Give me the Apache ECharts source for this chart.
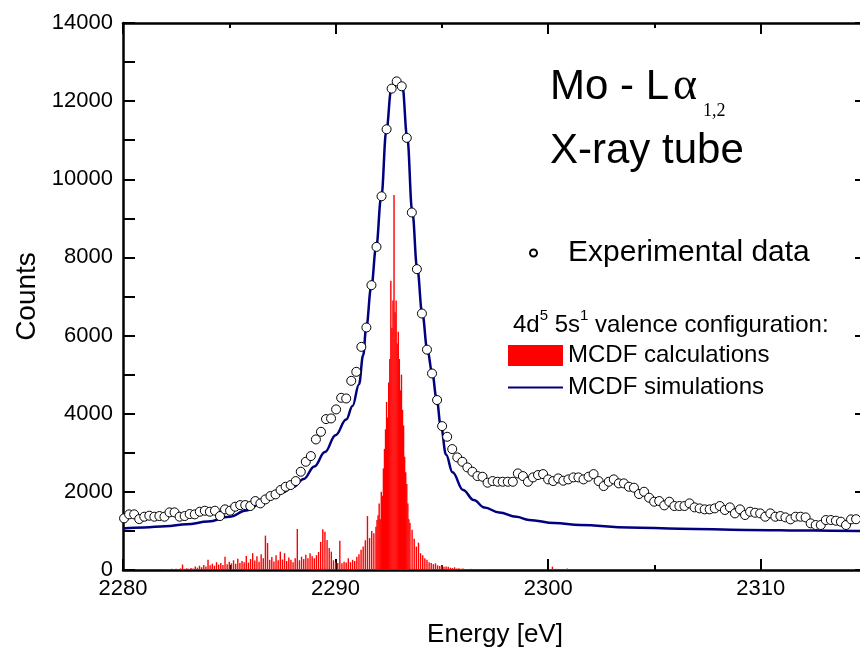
<!DOCTYPE html>
<html><head><meta charset="utf-8">
<script src="https://cdn.jsdelivr.net/npm/echarts@6/dist/echarts.min.js"></script>
<style>html,body{margin:0;padding:0;background:#fff}#c{width:860px;height:648px}</style>
</head><body><div id="c"></div>
<script>
// ---- Data ----
const xTicks = [2280, 2290, 2300, 2310];
const yTicks = [0, 2000, 4000, 6000, 8000, 10000, 12000, 14000];

// Experimental data: measured on a regular energy grid
const EXP_START = 2280.05;
const EXP_STEP = 0.2375;
const expCounts = [
  1322,1424,1424,1304,1364,1390,1364,1381,1364,1475,
  1475,1364,1381,1432,1424,1492,1517,1492,1517,1381,
  1552,1517,1620,1662,1662,1637,1765,1705,1807,1893,
  1935,2046,2131,2174,2276,2515,2770,2916,3342,3537,
  3862,3879,4110,4407,4390,4842,5072,5711,6207,7290,
  8270,9565,11280,12320,12506,12380,11060,9150,7700,6565,
  5640,5030,4350,3683,3410,3095,2882,2770,2626,2515,
  2404,2387,2234,2276,2259,2259,2259,2259,2472,2404,
  2259,2370,2430,2455,2319,2276,2345,2285,2319,2370,
  2370,2319,2387,2455,2276,2148,2259,2319,2217,2217,
  2131,2106,1944,2003,1850,1748,1765,1654,1748,1637,
  1637,1637,1705,1603,1577,1552,1552,1577,1637,1535,
  1603,1449,1552,1407,1492,1466,1449,1364,1449,1364,
  1381,1347,1296,1364,1364,1347,1194,1151,1151,1279,
  1279,1262,1236,1151,1296,1300
];

// MCDF simulation (smooth curve)
const simEnergy = [2280.0,2281.0,2282.0,2283.0,2284.0,2285.0,2285.8,2286.5,2287.0,2287.5,
  2288.0,2288.5,2289.0,2289.5,2290.0,2290.5,2290.8,2291.1,2291.3,2291.44,
  2291.68,2291.91,2292.15,2292.39,2292.62,2292.9,2293.14,2293.37,2293.61,2293.84,
  2294.08,2294.32,2294.55,2294.75,2294.95,2295.2,2295.5,2296.0,2296.5,2297.0,
  2297.7,2298.5,2299.1,2300.3,2301.5,2303.8,2306.2,2309.3,2312.5,2315.0];
const simCounts = [1065,1090,1120,1170,1240,1360,1520,1700,1840,1980,
  2120,2330,2650,3020,3450,3850,4200,4750,5500,6200,
  7250,8270,9550,11250,12300,12550,12400,11080,9160,7720,
  6560,5630,5030,4400,3700,2950,2500,2050,1790,1600,
  1470,1360,1280,1200,1150,1090,1057,1025,1008,1000];

// MCDF calculated stick spectrum
const calcEnergy = [
  2281.9,2282.0,2282.1,2282.2,2282.3,2282.4,2282.5,2282.6,2282.7,2282.8,
  2282.9,2283.0,2283.1,2283.2,2283.3,2283.4,2283.5,2283.6,2283.7,2283.8,
  2283.9,2284.0,2284.1,2284.2,2284.3,2284.4,2284.5,2284.6,2284.7,2284.8,
  2284.9,2285.0,2285.1,2285.2,2285.3,2285.4,2285.5,2285.6,2285.7,2285.8,
  2285.9,2286.0,2286.1,2286.2,2286.3,2286.4,2286.5,2286.6,2286.7,2286.8,
  2286.9,2287.0,2287.1,2287.2,2287.3,2287.4,2287.5,2287.6,2287.7,2287.8,
  2287.9,2288.0,2288.1,2288.2,2288.3,2288.4,2288.5,2288.6,2288.7,2288.8,
  2288.9,2289.0,2289.1,2289.2,2289.3,2289.4,2289.5,2289.6,2289.7,2289.8,
  2289.9,2290.0,2290.1,2290.2,2290.3,2290.4,2290.5,2290.6,2290.7,2290.8,
  2290.9,2291.0,2291.1,2291.2,2291.3,2291.4,2291.5,2291.6,2291.7,2291.8,
  2291.9,
  2291.95,2292.00,2292.05,2292.10,2292.15,2292.20,2292.25,2292.30,2292.35,2292.40,
  2292.45,2292.50,2292.55,2292.60,2292.65,2292.70,2292.75,2292.80,2292.85,2292.90,
  2292.95,2293.00,2293.05,2293.10,2293.15,2293.20,2293.25,2293.30,2293.35,2293.40,
  2293.45,
  2293.5,2293.6,2293.7,2293.8,2293.9,2294.0,2294.1,2294.2,2294.3,2294.4,
  2294.5,2294.6,2294.7,2294.8,2294.9,2295.0,2295.1,2295.2,2295.3,2295.4,
  2295.5,2295.6,2295.7,2295.8,2295.9,
  2296.0,2296.2,2296.4,2296.6,2296.8,2297.0,2297.3,2297.6,2298.0,
  2300.2,2300.4,2300.9,2301.0
];
const calcIntensity = [
  20,15,25,10,30,20,35,25,40,140,
  30,45,35,50,40,90,60,110,70,130,
  90,260,120,160,110,200,140,180,130,340,
  150,210,170,250,160,290,180,230,200,360,
  190,280,430,240,350,210,400,300,880,690,
  260,330,220,380,250,470,270,430,230,320,
  260,200,300,1050,250,340,280,390,300,430,
  350,300,380,460,720,1040,980,770,560,470,
  250,200,180,750,170,210,190,300,200,260,
  230,340,400,520,600,760,1380,820,1000,940,
  1110,
  1280,1400,1700,1300,2000,1900,2600,3100,3600,4300,
  3900,4800,5400,7400,6200,6900,9600,6600,6900,5800,
  6100,5400,4600,5000,4100,3700,2900,2500,2200,1700,
  1300,
  1200,1030,800,600,700,430,380,300,260,200,
  180,150,170,120,100,130,80,90,85,60,
  50,70,40,45,30,
  40,25,30,20,25,15,20,15,10,
  85,30,40,20
];

// ---- Chart ----
const FONT = '"Liberation Sans", Arial, Helvetica, sans-serif';
const SERIF = '"Liberation Serif", "Times New Roman", serif';
const chart = echarts.init(document.getElementById('c'), null, {renderer: 'canvas'});

const axisLineStyle = {color: '#000', width: 2.5};
const tickStyle = {color: '#000', width: 2};

const option = {
  animation: false,
  backgroundColor: '#fff',
  grid: {left: 123, top: 23, right: -7, bottom: 78, containLabel: false, outerBoundsMode: 'none'},
  xAxis: [{
    type: 'value', min: xTicks[0], max: 2315, interval: xTicks[1] - xTicks[0], position: 'bottom',
    axisLine: {show: true, onZero: false, lineStyle: axisLineStyle},
    axisTick: {show: true, inside: true, length: 11, lineStyle: tickStyle},
    minorTick: {show: true, splitNumber: 2, length: 5, lineStyle: tickStyle},
    splitLine: {show: false},
    axisLabel: {fontSize: 22, fontFamily: FONT, color: '#000', margin: 8,
      formatter: v => xTicks.includes(v) ? String(v) : ''},
    name: 'Energy [eV]', nameLocation: 'middle', nameGap: 52,
    nameTextStyle: {fontSize: 26, fontFamily: FONT, color: '#000'}
  }, {
    type: 'value', min: xTicks[0], max: 2315, interval: xTicks[1] - xTicks[0], position: 'top',
    axisLine: {show: true, onZero: false, lineStyle: axisLineStyle},
    axisTick: {show: true, inside: true, length: 11, lineStyle: tickStyle},
    minorTick: {show: true, splitNumber: 2, length: 5, lineStyle: tickStyle},
    splitLine: {show: false}, axisLabel: {show: false}
  }],
  yAxis: [{
    type: 'value', min: yTicks[0], max: yTicks[yTicks.length - 1], interval: yTicks[1] - yTicks[0], position: 'left',
    axisLine: {show: true, onZero: false, lineStyle: axisLineStyle},
    axisTick: {show: true, inside: true, length: 12, lineStyle: tickStyle},
    minorTick: {show: true, splitNumber: 2, length: 12, lineStyle: tickStyle},
    splitLine: {show: false},
    axisLabel: {fontSize: 22, fontFamily: FONT, color: '#000', margin: 10,
      formatter: v => String(v)},
    name: 'Counts', nameLocation: 'middle', nameGap: 80, nameRotate: 90,
    nameTextStyle: {fontSize: 28, fontFamily: FONT, color: '#000'}
  }, {
    type: 'value', min: yTicks[0], max: yTicks[yTicks.length - 1], interval: yTicks[1] - yTicks[0], position: 'right',
    axisLine: {show: true, onZero: false, lineStyle: axisLineStyle},
    axisTick: {show: true, inside: true, length: 12, lineStyle: tickStyle},
    splitLine: {show: false}, axisLabel: {show: false}
  }],
  legend: [{
    data: ['Experimental data'], left: 524, top: 233, icon: 'circle',
    itemWidth: 7, itemHeight: 7, selectedMode: false,
    textStyle: {fontSize: 30, fontFamily: FONT, color: '#000', padding: [0, 0, 0, 26]}
  }, {
    data: [{name: 'MCDF calculations', icon: 'rect'},
           {name: 'MCDF simulations', itemStyle: {opacity: 0}}],
    orient: 'vertical', left: 502, top: 338.5, itemWidth: 55, itemHeight: 21, itemGap: 8,
    selectedMode: false,
    textStyle: {fontSize: 24, fontFamily: FONT, color: '#000'}
  }],
  graphic: [
    {type: 'text', x: 550, y: 66, style: {text: 'Mo - L', font: '42px ' + FONT, fill: '#000', verticalAlign: 'top'}},
    {type: 'text', x: 673, y: 64, style: {text: 'α', font: '46px ' + SERIF, fill: '#000', verticalAlign: 'top'}},
    {type: 'text', x: 703, y: 102, style: {text: '1,2', font: '18px ' + SERIF, fill: '#000', verticalAlign: 'top'}},
    {type: 'text', x: 550, y: 130, style: {text: 'X-ray tube', font: '42px ' + FONT, fill: '#000', verticalAlign: 'top'}},
    {type: 'text', x: 513, y: 308.6, style: {
      text: '{m|4d}{s|5}{m| 5s}{s|1}{m| valence configuration:}',
      verticalAlign: 'top',
      rich: {
        m: {fontSize: 24, fontFamily: FONT, lineHeight: 34, fill: '#000'},
        s: {fontSize: 15, fontFamily: FONT, lineHeight: 15, fill: '#000', verticalAlign: 'top'}
      }
    }}
  ],
  series: [{
    name: 'MCDF calculations', type: 'custom', xAxisIndex: 0, yAxisIndex: 0,
    data: calcEnergy.map((e, i) => [e, calcIntensity[i]]),
    encode: {x: 0, y: 1},
    itemStyle: {color: '#ff0000'},
    renderItem: function (params, api) {
      const p0 = api.coord([api.value(0), 0]);
      const p1 = api.coord([api.value(0), api.value(1)]);
      return {type: 'line', shape: {x1: p0[0], y1: p0[1], x2: p1[0], y2: p1[1]},
              style: {stroke: '#ff0000', lineWidth: 1.4}};
    },
    z: 1
  }, {
    name: 'MCDF simulations', type: 'line', xAxisIndex: 0, yAxisIndex: 0,
    data: simEnergy.map((e, i) => [e, simCounts[i]]),
    smooth: 0.4, smoothMonotone: 'x', symbol: 'none', showSymbol: false,
    lineStyle: {color: '#000080', width: 2.5}, itemStyle: {color: '#000080'}, z: 3
  }, {
    name: 'Experimental data', type: 'scatter', xAxisIndex: 0, yAxisIndex: 0,
    data: expCounts.map((c, i) => [EXP_START + i * EXP_STEP, c]),
    symbol: 'circle', symbolSize: 9,
    itemStyle: {color: '#fff', borderColor: '#000', borderWidth: 1, opacity: 1}, z: 4
  }]
};
chart.setOption(option);
</script></body></html>
